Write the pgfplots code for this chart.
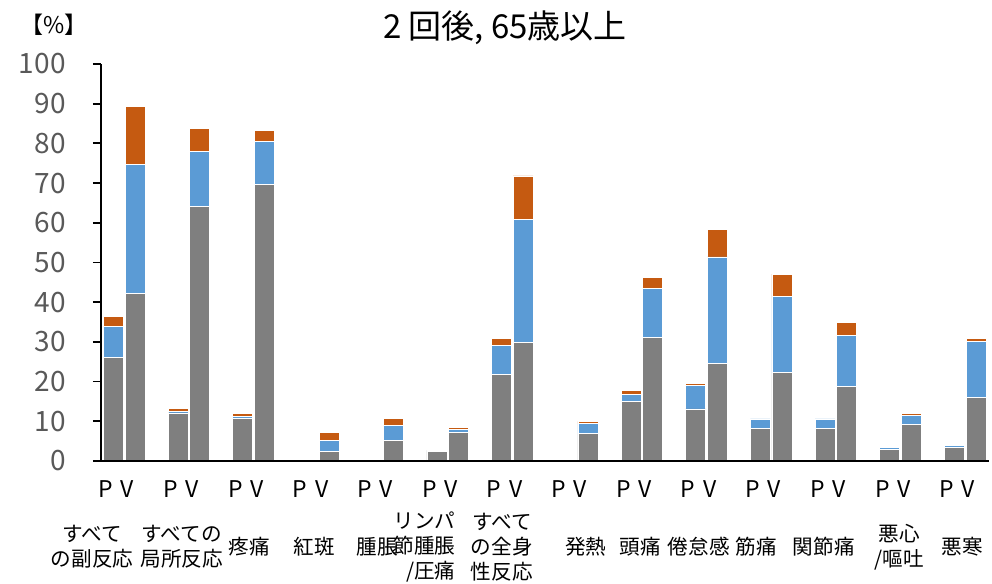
\documentclass[border=0pt]{standalone}
\usepackage{fontspec}
\setmainfont{Noto Sans CJK JP}
\usepackage{pgfplots}
\pgfplotsset{compat=1.18}
\usepackage{pgfplotstable}
\definecolor{cg}{HTML}{7F7F7F}
\definecolor{cb}{HTML}{5B9BD5}
\definecolor{co}{HTML}{C55A11}
\definecolor{tl}{HTML}{595959}

\pgfplotstableread{
x g b o
0 26.1 7.8 2.5
1 42.2 32.6 14.6
3 12.1 0.4 0.8
4 64.1 13.8 5.8
6 10.8 0.5 0.6
7 69.7 10.8 2.8
9 0.0 0.0 0.4
10 2.4 2.8 2.1
12 0.0 0.0 0.4
13 5.1 3.8 1.9
15 2.4 0.2 0.1
16 7.1 0.8 0.6
18 21.7 7.5 1.6
19 29.8 31.1 10.9
21 0.0 0.0 0.3
22 6.9 2.5 0.6
24 15.1 1.7 0.9
25 31.1 12.3 2.8
27 13.1 5.9 0.6
28 24.5 26.9 6.9
30 8.3 2.3 0.2
31 22.3 19.1 5.7
33 8.3 2.3 0.2
34 18.7 12.9 3.4
36 2.9 0.5 0.1
37 9.1 2.3 0.5
39 3.4 0.5 0.2
40 15.9 14.2 0.8
}\data

\tikzset{cat/.style={font=\fontsize{10.3}{12.5}\selectfont, align=center, anchor=center, inner sep=0pt, yshift=-43pt}}

\begin{document}
\begin{tikzpicture}
\path[use as bounding box] (0,0) rectangle (496pt,292pt);
\node[font=\fontsize{16.5}{19}\selectfont, anchor=center] at (252.5pt,278pt) {2 回後, 65歳以上};
\node[font=\fontsize{11.5}{13}\selectfont, anchor=center] at (27pt,279.5pt) {【\%】};
\begin{axis}[
  at={(50.5pt,61.5pt)}, anchor=south west,
  scale only axis, width=444pt, height=198.5pt,
  xmin=-0.58, xmax=40.6, ymin=0, ymax=100,
  clip=false, axis on top,
  axis x line=bottom, axis y line=left,
  axis line style={-, line width=0.9pt, black},
  ybar stacked, bar width=10pt,
  ytick={0,10,...,100},
  tick align=outside,
  major tick length=4pt,
  y tick style={black, line width=0.9pt},
  x tick style={draw=none},
  /pgf/number format/assume math mode=true,
  yticklabel style={font=\fontsize{14}{16}\selectfont, text=tl, anchor=east, inner sep=0pt, xshift=-13.5pt},
  xtick={0,1,3,4,6,7,9,10,12,13,15,16,18,19,21,22,24,25,27,28,30,31,33,34,36,37,39,40},
  xticklabels={P,V,P,V,P,V,P,V,P,V,P,V,P,V,P,V,P,V,P,V,P,V,P,V,P,V,P,V},
  xticklabel style={font=\fontsize{11.5}{13}\selectfont, anchor=base, inner sep=0pt, yshift=-14.5pt, xshift=-3.75pt},
]
\addplot[fill=cg, draw=white, line width=0.4pt] table[x=x, y=g] {\data};
\addplot[fill=cb, draw=white, line width=0.4pt] table[x=x, y=b] {\data};
\addplot[fill=co, draw=white, line width=0.4pt] table[x=x, y=o] {\data};

\node[cat] at (axis cs:-0.99,0) {すべて\\の副反応};
\node[cat] at (axis cs:3.17,0) {すべての\\局所反応};
\node[cat] at (axis cs:6.29,0) {疼痛};
\node[cat] at (axis cs:9.32,0) {紅斑};
\node[cat] at (axis cs:12.23,0) {腫脹};
\node[cat, align=right, anchor=east] at (axis cs:15.88,0) {リンパ\\節腫脹\\/圧痛};
\node[cat] at (axis cs:18.01,0) {すべて\\の全身\\性反応};
\node[cat] at (axis cs:21.91,0) {発熱};
\node[cat] at (axis cs:24.43,0) {頭痛};
\node[cat] at (axis cs:27.14,0) {倦怠感};
\node[cat] at (axis cs:29.80,0) {筋痛};
\node[cat] at (axis cs:32.94,0) {関節痛};
\node[cat] at (axis cs:36.45,0) {悪心\\/嘔吐};
\node[cat] at (axis cs:39.37,0) {悪寒};
\end{axis}
\end{tikzpicture}
\end{document}
